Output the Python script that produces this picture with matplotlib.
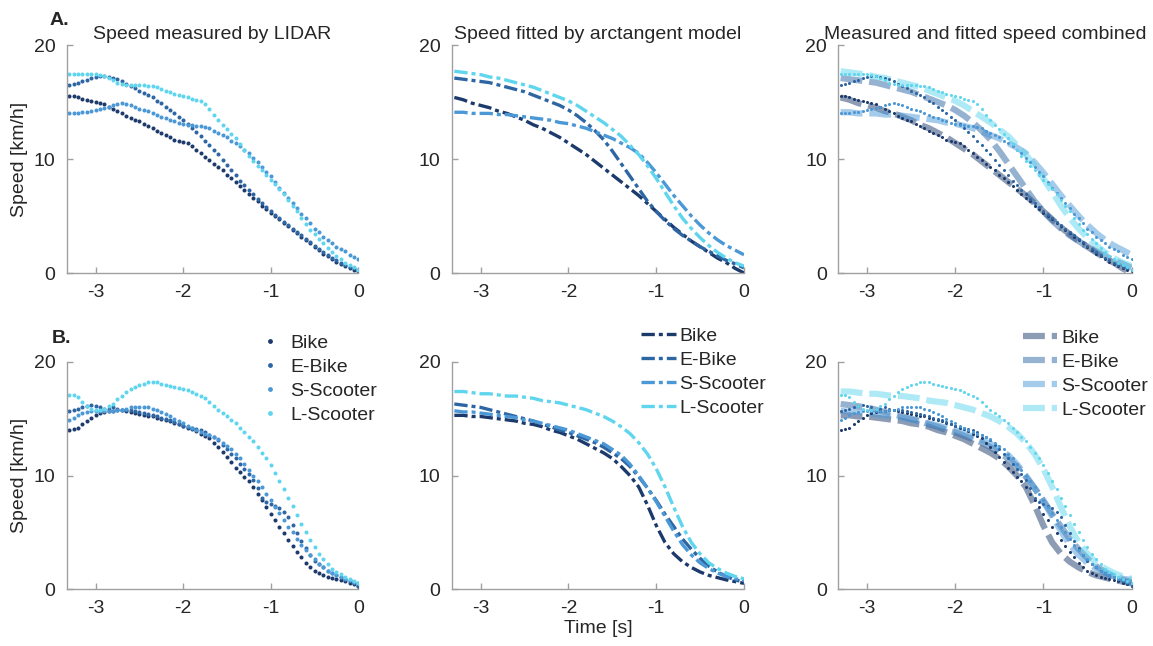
import numpy as np
import matplotlib
matplotlib.use("Agg")
import matplotlib.pyplot as plt

plt.rcParams['font.family'] = ['Liberation Sans', 'DejaVu Sans']
plt.rcParams['axes.unicode_minus'] = False

# ---------------- data ----------------
labels = ["Bike", "E-Bike", "S-Scooter", "L-Scooter"]
colors = ["#1c3a6c", "#2e66a4", "#4b98d6", "#5fd5ee"]

# measured samples every 0.05 s from -3.30 s to 0 s
t_meas = np.round(np.arange(-3.30, 0.001, 0.05), 2)

# Row A (measured by LIDAR)
a_bike = [15.5, 15.5, 15.4, 15.3, 15.2, 15.1, 15.0, 14.9, 14.8, 14.6, 14.4, 14.2, 14.0, 13.8, 13.6, 13.4, 13.3,
          13.1, 12.9, 12.7, 12.5, 12.3, 12.1, 11.9, 11.7, 11.6, 11.5, 11.4, 11.1, 10.8, 10.5, 10.2, 9.9, 9.6,
          9.3, 9.0, 8.6, 8.3, 8.0, 7.6, 7.3, 6.9, 6.6, 6.3, 5.9, 5.6, 5.3, 5.0, 4.7, 4.4, 4.1, 3.8, 3.5, 3.2,
          2.9, 2.6, 2.3, 2.0, 1.7, 1.5, 1.2, 1.0, 0.8, 0.6, 0.4, 0.3, 0.2]
a_ebike = [16.5, 16.6, 16.7, 16.8, 16.9, 17.1, 17.2, 17.3, 17.3, 17.2, 17.1, 17.0, 16.8, 16.6, 16.4, 16.2, 16.0,
           15.8, 15.6, 15.4, 15.1, 14.9, 14.6, 14.3, 14.0, 13.7, 13.4, 13.1, 12.7, 12.4, 12.0, 11.6, 11.2, 10.8,
           10.4, 9.9, 9.5, 9.0, 8.6, 8.1, 7.7, 7.3, 6.9, 6.5, 6.1, 5.8, 5.4, 5.1, 4.8, 4.5, 4.2, 3.9, 3.6, 3.3,
           3.0, 2.7, 2.4, 2.1, 1.8, 1.6, 1.3, 1.1, 0.9, 0.7, 0.5, 0.4, 0.3]
a_sscooter = [14.0, 14.0, 14.0, 14.1, 14.1, 14.2, 14.3, 14.4, 14.5, 14.6, 14.7, 14.8, 14.9, 14.8, 14.7, 14.6, 14.4,
              14.3, 14.2, 14.0, 13.9, 13.7, 13.6, 13.4, 13.3, 13.2, 13.1, 13.0, 13.0, 12.9, 12.9, 12.8, 12.7,
              12.5, 12.3, 12.1, 11.9, 11.6, 11.4, 11.1, 10.8, 10.5, 10.1, 9.7, 9.3, 8.9, 8.5, 8.0, 7.5, 7.0,
              6.6, 6.1, 5.7, 5.2, 4.8, 4.4, 3.9, 3.6, 3.2, 2.9, 2.6, 2.3, 2.1, 1.9, 1.6, 1.4, 1.2]
a_lscooter = [17.5, 17.5, 17.5, 17.5, 17.5, 17.5, 17.5, 17.4, 17.3, 17.1, 16.9, 16.7, 16.6, 16.5, 16.5, 16.5, 16.5,
              16.5, 16.4, 16.4, 16.3, 16.1, 16.0, 15.9, 15.7, 15.6, 15.5, 15.4, 15.3, 15.2, 15.1, 14.8, 14.4,
              13.9, 13.4, 13.0, 12.6, 12.2, 11.8, 11.3, 10.8, 10.3, 9.8, 9.4, 9.0, 8.6, 8.2, 7.8, 7.4, 6.9, 6.4,
              5.9, 5.4, 4.8, 4.3, 3.8, 3.4, 3.0, 2.6, 2.2, 1.8, 1.5, 1.2, 0.9, 0.7, 0.5, 0.3]

# Row B (measured by LIDAR)
b_bike = [14.0, 14.1, 14.2, 14.5, 14.8, 15.1, 15.3, 15.5, 15.6, 15.7, 15.7, 15.8, 15.8, 15.7, 15.6, 15.5, 15.4,
          15.3, 15.2, 15.2, 15.1, 15.0, 14.9, 14.8, 14.6, 14.5, 14.4, 14.2, 14.1, 13.9, 13.7, 13.5, 13.3, 12.9,
          12.5, 12.1, 11.6, 11.2, 10.7, 10.3, 9.9, 9.5, 9.0, 8.4, 7.8, 7.2, 6.6, 6.1, 5.5, 4.9, 4.3, 3.8, 3.3,
          2.8, 2.3, 1.9, 1.6, 1.4, 1.2, 1.1, 1.0, 0.9, 0.8, 0.7, 0.5, 0.4, 0.3]
b_ebike = [15.7, 15.8, 15.9, 16.0, 16.1, 16.2, 16.1, 16.0, 15.9, 15.9, 16.0, 15.9, 15.8, 15.8, 15.8, 15.7, 15.6,
           15.5, 15.4, 15.3, 15.2, 15.1, 15.0, 14.9, 14.7, 14.5, 14.4, 14.3, 14.2, 14.1, 14.0, 13.8, 13.6, 13.4,
           13.1, 12.7, 12.3, 11.9, 11.5, 11.0, 10.6, 10.1, 9.6, 8.9, 8.0, 7.7, 7.5, 7.3, 7.1, 6.8, 6.3, 5.6, 4.9,
           4.2, 3.6, 3.0, 2.5, 2.2, 1.9, 1.6, 1.4, 1.2, 1.1, 0.9, 0.7, 0.5, 0.3]
b_sscooter = [14.9, 15.1, 15.3, 15.5, 15.6, 15.7, 15.7, 15.7, 15.7, 15.7, 15.7, 15.8, 15.8, 15.9, 16.0, 16.0, 16.0,
              16.0, 16.0, 15.9, 15.8, 15.6, 15.4, 15.2, 15.0, 14.8, 14.6, 14.4, 14.2, 14.0, 13.8, 13.7, 13.6,
              13.4, 13.2, 12.9, 12.6, 12.3, 11.9, 11.5, 11.0, 10.5, 10.0, 9.5, 9.0, 8.4, 7.8, 7.2, 6.7, 6.1, 5.5,
              5.0, 4.4, 3.9, 3.4, 3.0, 2.6, 2.2, 1.9, 1.6, 1.4, 1.2, 1.1, 0.9, 0.8, 0.6, 0.5]
b_lscooter = [17.1, 17.1, 16.9, 16.5, 16.1, 15.9, 15.8, 15.8, 15.9, 16.1, 16.3, 16.7, 17.0, 17.4, 17.6, 17.8, 18.0,
              18.1, 18.2, 18.2, 18.2, 18.1, 18.0, 17.9, 17.8, 17.7, 17.6, 17.5, 17.4, 17.2, 17.0, 16.8, 16.5,
              16.1, 15.8, 15.5, 15.2, 14.9, 14.6, 14.2, 13.8, 13.4, 13.0, 12.5, 12.0, 11.5, 10.9, 10.2, 9.5, 8.8,
              8.0, 7.3, 6.5, 5.7, 5.0, 4.3, 3.7, 3.1, 2.6, 2.2, 1.8, 1.5, 1.3, 1.1, 0.9, 0.7, 0.5]

# fitted (arctangent model) curves, every 0.1 s from -3.3 s to 0 s
t_fit = np.round(np.arange(-3.3, 0.001, 0.1), 1)

fa_bike = [15.4, 15.2, 14.9, 14.7, 14.5, 14.2, 14.0, 13.7, 13.4, 13.0, 12.7, 12.3, 11.9, 11.4, 10.9, 10.4, 9.8,
           9.2, 8.6, 8.0, 7.4, 6.8, 6.1, 5.4, 4.7, 4.0, 3.4, 2.8, 2.3, 1.8, 1.3, 0.9, 0.4, 0.0]
fa_ebike = [17.1, 17.0, 16.9, 16.8, 16.7, 16.5, 16.3, 16.1, 15.9, 15.6, 15.3, 15.0, 14.7, 14.3, 13.8, 13.2, 12.5,
            11.7, 10.7, 9.6, 8.5, 7.4, 6.3, 5.4, 4.6, 3.9, 3.3, 2.8, 2.3, 1.9, 1.5, 1.1, 0.8, 0.45]
fa_sscooter = [14.1, 14.1, 14.0, 14.0, 14.0, 13.9, 13.9, 13.8, 13.7, 13.6, 13.5, 13.4, 13.2, 13.1, 12.9, 12.7,
               12.4, 12.1, 11.8, 11.4, 11.0, 10.5, 9.7, 8.8, 7.8, 6.8, 5.9, 5.0, 4.2, 3.5, 2.9, 2.4, 2.0, 1.6]
fa_lscooter = [17.7, 17.6, 17.5, 17.4, 17.2, 17.1, 16.9, 16.7, 16.5, 16.3, 16.0, 15.7, 15.4, 15.1, 14.7, 14.2,
               13.7, 13.2, 12.6, 12.0, 11.2, 10.4, 9.4, 8.3, 7.1, 5.9, 4.8, 3.9, 3.1, 2.4, 1.8, 1.3, 0.9, 0.6]

fb_bike = [15.3, 15.3, 15.2, 15.2, 15.1, 15.0, 14.9, 14.8, 14.6, 14.5, 14.3, 14.0, 13.8, 13.5, 13.2, 12.8, 12.4,
           12.0, 11.5, 10.8, 10.0, 9.0, 7.4, 5.6, 4.1, 3.1, 2.4, 1.9, 1.5, 1.2, 1.0, 0.8, 0.65, 0.5]
fb_ebike = [16.3, 16.2, 16.1, 16.0, 15.8, 15.6, 15.4, 15.2, 15.0, 14.8, 14.5, 14.3, 14.0, 13.8, 13.5, 13.2, 12.9,
            12.5, 12.0, 11.5, 10.8, 9.9, 8.9, 7.8, 6.6, 5.5, 4.4, 3.5, 2.7, 2.0, 1.5, 1.1, 0.8, 0.6]
fb_sscooter = [15.7, 15.6, 15.6, 15.5, 15.4, 15.3, 15.2, 15.1, 14.9, 14.8, 14.6, 14.4, 14.2, 14.0, 13.7, 13.4,
               13.1, 12.8, 12.3, 11.8, 11.0, 10.0, 8.9, 7.7, 6.4, 5.1, 3.9, 3.0, 2.3, 1.8, 1.4, 1.1, 0.9, 0.8]
fb_lscooter = [17.4, 17.4, 17.3, 17.2, 17.2, 17.1, 17.0, 17.0, 16.9, 16.8, 16.6, 16.5, 16.4, 16.2, 16.0, 15.8,
               15.5, 15.2, 14.8, 14.3, 13.7, 12.9, 11.9, 10.6, 9.0, 7.2, 5.5, 4.1, 3.1, 2.3, 1.8, 1.4, 1.1, 0.9]

meas_A = [a_bike, a_ebike, a_sscooter, a_lscooter]
meas_B = [b_bike, b_ebike, b_sscooter, b_lscooter]
fit_A = [fa_bike, fa_ebike, fa_sscooter, fa_lscooter]
fit_B = [fb_bike, fb_ebike, fb_sscooter, fb_lscooter]

titles = ["Speed measured by LIDAR", "Speed fitted by arctangent model", "Measured and fitted speed combined"]

# ---------------- figure ----------------
W, H = 1153, 646
fig = plt.figure(figsize=(W / 100, H / 100), dpi=100)

def px_axes(l, r, top, bot):
    return fig.add_axes([l / W, 1 - bot / H, (r - l) / W, (bot - top) / H])

lefts = [(66.7, 358.3), (451.7, 744.0), (838.0, 1131.5)]
rows = [(45, 273), (362, 589)]

FS = 14
spine_c = "#a0a0a0"
text_c = "#262626"
dashdot = (0, (4, 1.2, 1.2, 1.2))
combo_dash = (0, (3.5, 1.1))

axes = []
for ri, (top, bot) in enumerate(rows):
    for ci, (l, r) in enumerate(lefts):
        ax = px_axes(l, r, top, bot)
        axes.append(ax)
        meas = meas_A if ri == 0 else meas_B
        fits = fit_A if ri == 0 else fit_B
        for k in range(4):
            if ci == 0:
                ax.plot(t_meas, meas[k], linestyle="none", marker="o", markersize=2.9,
                        markeredgewidth=0, color=colors[k], label=labels[k])
            elif ci == 1:
                ax.plot(t_fit, fits[k], linestyle=dashdot, lw=2.4, color=colors[k], label=labels[k])
            else:
                ax.plot(t_fit, fits[k], linestyle=combo_dash, lw=4.5, color=colors[k], alpha=0.5,
                        label=labels[k])
        if ci == 2:
            for k in range(4):
                ax.plot(t_meas, meas[k], linestyle="none", marker="o", markersize=2.2,
                        markeredgewidth=0, color=colors[k])
        ax.set_xlim(-3.33, 0)
        ax.set_ylim(0, 20)
        ax.set_xticks([-3, -2, -1, 0])
        ax.set_yticks([0, 10, 20])
        for s in ["top", "right"]:
            ax.spines[s].set_visible(False)
        for s in ["left", "bottom"]:
            ax.spines[s].set_color(spine_c)
            ax.spines[s].set_linewidth(1.0)
        ax.tick_params(direction="in", length=4, width=1.0, color=spine_c, labelsize=FS,
                       labelcolor=text_c, pad=8)
        if ri == 0:
            ax.set_title(titles[ci], fontsize=FS, color=text_c, pad=4)
        if ci == 0:
            ax.set_ylabel("Speed [km/h]", fontsize=FS, color=text_c, labelpad=4)
        if ri == 1 and ci == 1:
            ax.set_xlabel("Time [s]", fontsize=FS, color=text_c, labelpad=2)

# legends (row B)
leg_kw = dict(frameon=False, fontsize=FS, labelspacing=0.33, borderpad=0, borderaxespad=0,
              bbox_transform=fig.transFigure, loc="upper left")
lg = axes[3].legend(handlelength=1.0, handletextpad=0.55, markerscale=1.2,
                    bbox_to_anchor=(260 / W, 1 - 334 / H), **leg_kw)
for txt in lg.get_texts():
    txt.set_color(text_c)
lg = axes[4].legend(handlelength=1.8, handletextpad=0.15,
                    bbox_to_anchor=(641 / W, 1 - 327 / H), **leg_kw)
for txt in lg.get_texts():
    txt.set_color(text_c)
lg = axes[5].legend(handlelength=1.75, handletextpad=0.2,
                    bbox_to_anchor=(1023 / W, 1 - 329 / H), **leg_kw)
for txt in lg.get_texts():
    txt.set_color(text_c)

fig.text(50 / W, 1 - 25 / H, "A.", fontsize=FS, fontweight="bold", color=text_c)
fig.text(52 / W, 1 - 343 / H, "B.", fontsize=FS, fontweight="bold", color=text_c)

fig.savefig("out.png", dpi=100)
